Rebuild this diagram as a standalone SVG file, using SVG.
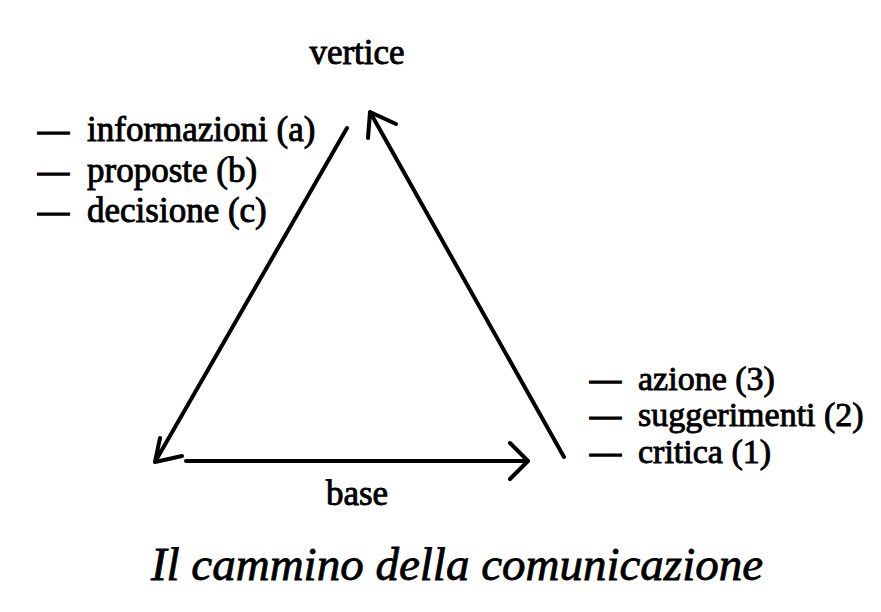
<svg xmlns="http://www.w3.org/2000/svg" width="881" height="612" viewBox="0 0 881 612">
<style>
.t{font-family:"Liberation Serif","Times New Roman",serif;font-size:35px;fill:#000;stroke:#000;stroke-width:0.9}
.r{font-size:34px}
.d{font-family:"Liberation Serif","Times New Roman",serif;font-size:31px;fill:#000;stroke:#000;stroke-width:1.6}
.cap{font-family:"Liberation Serif","Times New Roman",serif;font-size:47px;font-style:italic;fill:#000;stroke:#000;stroke-width:0.8}
.ln{stroke:#000;stroke-width:4;fill:none;stroke-linecap:round;stroke-linejoin:round}
</style>
<rect width="881" height="612" fill="#fff"/>
<g id="connectors">
<path class="ln" d="M347,128 L155,462 M160,438 L155,462 L182,456"/>
<path class="ln" d="M186,461 L528,461 M510,443 L528,461 L510,479"/>
<path class="ln" d="M564,457 L370,112 M368,138 L370,112 L396,124"/>
</g>
<g id="vertice"><text class="t" x="357" y="64" text-anchor="middle">vertice</text></g>
<g id="base"><text class="t" x="357" y="505" text-anchor="middle">base</text></g>
<g id="left-labels">
<text class="d" x="38" y="141">—</text><text class="t" x="87" y="141">informazioni (a)</text>
<text class="d" x="38" y="182">—</text><text class="t" x="87" y="182">proposte (b)</text>
<text class="d" x="38" y="222">—</text><text class="t" x="87" y="222">decisione (c)</text>
</g>
<g id="right-labels">
<text class="d" x="590" y="390">—</text><text class="t r" x="638" y="390">azione (3)</text>
<text class="d" x="590" y="426">—</text><text class="t r" x="638" y="426">suggerimenti (2)</text>
<text class="d" x="590" y="463">—</text><text class="t r" x="638" y="463">critica (1)</text>
</g>
<g id="caption"><text class="cap" x="457" y="580" text-anchor="middle">Il cammino della comunicazione</text></g>
</svg>
